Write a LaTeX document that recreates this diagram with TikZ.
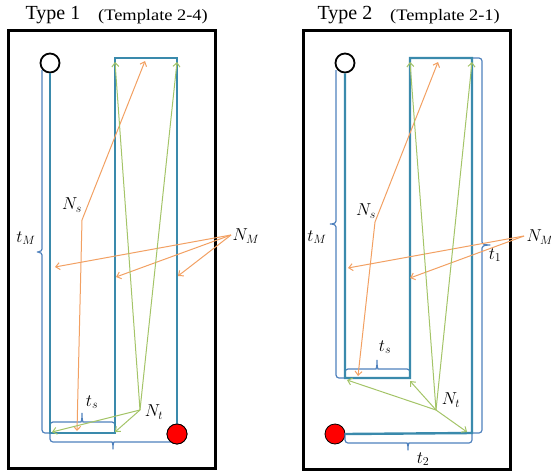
\documentclass[tikz,border=0pt]{standalone}
\usepackage{fontspec}
\setmainfont{Liberation Serif}
\newfontfamily\widefont[FakeStretch=1.15]{Liberation Serif}
\usetikzlibrary{arrows.meta}

\definecolor{chanblue}{RGB}{58,138,172}
\definecolor{braceblue}{RGB}{79,129,189}
\definecolor{arrorange}{RGB}{242,160,98}
\definecolor{arrgreen}{RGB}{164,196,104}

\begin{document}
\begin{tikzpicture}[
  x=1pt, y=-1pt,
  >={Straight Barb[length=4pt,width=7pt]},
  frame/.style    = {draw=black, line width=3pt},
  title/.style    = {font=\fontsize{20}{22}\selectfont, inner sep=0pt, anchor=base},
  subtitle/.style = {font=\widefont\fontsize{16}{18}\selectfont, inner sep=0pt, anchor=base},
  chan/.style     = {draw=chanblue, line width=2.4pt},
  bracket/.style  = {draw=braceblue, line width=1.2pt, rounded corners=3pt},
  inlet/.style    = {circle, draw=black, line width=1.8pt, fill=white,
                     minimum size=19pt, inner sep=0pt},
  outlet/.style   = {circle, draw=black, line width=0.8pt, fill=red,
                     minimum size=20pt, inner sep=0pt},
  lbl/.style      = {font=\fontsize{18}{21}\selectfont, inner sep=0pt},
  ns/.style       = {->, draw=arrorange, line width=1pt},
  nt/.style       = {->, draw=arrgreen, line width=1pt},
]
\useasboundingbox (0,0) rectangle (551,474);

% Type 1 (left panel)
\draw[frame] (8,30) rectangle (215,468);
\node[title] (type1) at (53,19) {Type 1};
\node[subtitle] (tmpl1) at (153,20) {(Template 2-4)};

\node[inlet] (in1) at (50,63) {};
\node[outlet] (out1) at (177,434) {};

\draw[bracket] (42,70) -- (42,246) .. controls (42,250) and (41,252) .. (35,252)
  .. controls (41,252) and (42,254) .. (42,258) -- (42,433) -- (50,433);
\draw[bracket] (50,433) -- (50,422) -- (78,422) .. controls (81,422) and (82,421) .. (82,411)
  .. controls (82,421) and (83,422) .. (86,422) -- (115,422) -- (115,433);
\draw[bracket] (50,433) -- (50,442) -- (109,442) .. controls (112,442) and (113,443) .. (113,451)
  .. controls (113,443) and (114,442) .. (117,442) -- (177,442) -- (177,434);

\draw[chan] (in1.south) -- (50,433) -- (115,433) -- (115,58) -- (177,58) -- (out1.north);
\node[outlet] at (out1) {};

\node[lbl] (tm1) at (26,238) {$t_M$};
\node[lbl] (ts1) at (92,402) {$t_s$};
\node[lbl] (ns1lbl) at (72,205) {$N_s$};
\node[lbl] (nm1lbl) at (246,236) {$N_M$};
\node[lbl] (nt1lbl) at (154,412) {$N_t$};

\coordinate (ns1) at (82,220);
\coordinate (s1a) at (145,61);
\coordinate (s1b) at (77,431);
\coordinate (nm1) at (231,235);
\coordinate (m1a) at (55,267);
\coordinate (m1b) at (116,277);
\coordinate (m1c) at (178,276);
\coordinate (nt1) at (140,410);
\coordinate (t1a) at (115,62);
\coordinate (t1b) at (177,62);
\coordinate (t1c) at (52,432);
\coordinate (t1d) at (115,432);

\foreach \e in {s1a,s1b} \draw[ns] (ns1) -- (\e);
\foreach \e in {m1a,m1b,m1c} \draw[ns] (nm1) -- (\e);
\foreach \e in {t1a,t1b,t1c,t1d} \draw[nt] (nt1) -- (\e);

% Type 2 (right panel)
\draw[frame] (303,30) rectangle (510,469);
\node[title] (type2) at (345,19) {Type 2};
\node[subtitle] (tmpl2) at (445,20) {(Template 2-1)};

\node[inlet] (in2) at (345,63) {};
\node[outlet] (out2) at (335,434) {};

\draw[bracket] (336,70) -- (336,218) .. controls (336,222) and (335,224) .. (328,224)
  .. controls (335,224) and (336,226) .. (336,230) -- (336,378) -- (345,378);
\draw[bracket] (345,378) -- (345,369) -- (373,369) .. controls (376,369) and (377,368) .. (377,358)
  .. controls (377,368) and (378,369) .. (381,369) -- (410,369) -- (410,378);
\draw[bracket] (472,58) -- (482,58) -- (482,239) .. controls (482,243) and (483,245) .. (492,245)
  .. controls (483,245) and (482,247) .. (482,251) -- (482,433) -- (472,433);
\draw[bracket] (345,433) -- (345,443) -- (404,443) .. controls (407,443) and (408,444) .. (408,452)
  .. controls (408,444) and (409,443) .. (412,443) -- (472,443) -- (472,433);

\draw[chan] (in2.south) -- (345,378) -- (410,378) -- (410,58) -- (472,58) -- (472,433) -- (out2.east);

\node[lbl] (tm2) at (317,237) {$t_M$};
\node[lbl] (ts2) at (385,347) {$t_s$};
\node[lbl] (t12) at (495,255) {$t_1$};
\node[lbl] (t22) at (423,459) {$t_2$};
\node[lbl] (ns2lbl) at (366,211) {$N_s$};
\node[lbl] (nm2lbl) at (540,237) {$N_M$};
\node[lbl] (nt2lbl) at (451,400) {$N_t$};

\coordinate (ns2) at (375,222);
\coordinate (s2a) at (438,62);
\coordinate (s2b) at (358,376);
\coordinate (nm2) at (524,236);
\coordinate (m2a) at (348,268);
\coordinate (m2b) at (410,278);
\coordinate (nt2) at (436,410);
\coordinate (t2a) at (410,62);
\coordinate (t2b) at (472,62);
\coordinate (t2c) at (347,380);
\coordinate (t2d) at (410,381);
\coordinate (t2e) at (467,432);

\foreach \e in {s2a,s2b} \draw[ns] (ns2) -- (\e);
\foreach \e in {m2a,m2b} \draw[ns] (nm2) -- (\e);
\foreach \e in {t2a,t2b,t2c,t2d,t2e} \draw[nt] (nt2) -- (\e);
\end{tikzpicture}
\end{document}
